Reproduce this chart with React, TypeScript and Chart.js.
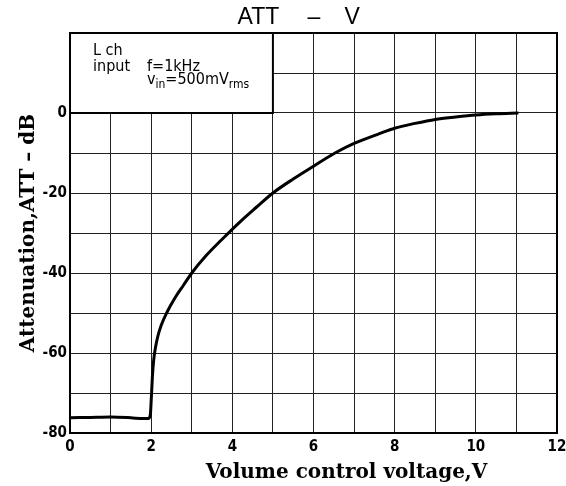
import React, { useEffect, useRef } from "react";
import { Chart, registerables } from "chart.js";

Chart.register(...registerables);

// Volume control voltage (V)
const voltage = [0, 0.5, 1, 1.5, 1.8, 1.93, 1.98, 2.0, 2.03, 2.06, 2.1, 2.16, 2.25, 2.38, 2.6, 2.8, 3.0, 3.35, 3.73, 4.19, 4.6, 5, 5.5, 6, 6.53, 7, 7.64, 8, 8.5, 9, 9.5, 10, 10.5, 11.05];
// Attenuation (dB)
const attenuation = [-76.2, -76.1, -76.0, -76.2, -76.4, -76.4, -75.4, -72, -66, -62, -59, -56, -53, -50, -46, -43, -40, -35.7, -31.75, -27.2, -23.5, -20, -16.5, -13.3, -10, -7.6, -5.1, -3.8, -2.6, -1.6, -1.0, -0.5, -0.2, 0];

const xTickLabels = ["0", "2", "4", "6", "8", "10", "12"];
const yTickLabels = ["0", "-20", "-40", "-60", "-80"];

const titleParts = ["ATT", "–", "V"];
const xTitle = "Volume control voltage,V";
const yTitle = "Attenuation,ATT – dB";
const noteLines = ["L ch", "input", "f=1kHz"];
const noteVin = ["v", "in", "=500mV", "rms"];

const serif = '"DejaVu Serif", "Liberation Serif", serif';
const narrow = '"DejaVu Sans Condensed", "Liberation Sans Narrow", "Liberation Sans", sans-serif';

const decorPlugin = {
  id: "decor",
  beforeDatasetsDraw(chart: any) {
    const { ctx, scales } = chart;
    const xs = scales.x;
    const ys = scales.y;
    // note box (covers 0..5 V, 0..20 dB)
    const l = xs.getPixelForValue(0);
    const r = xs.getPixelForValue(5);
    const t = ys.getPixelForValue(20);
    const b = ys.getPixelForValue(0);
    ctx.save();
    ctx.fillStyle = "#fff";
    ctx.fillRect(l, t, r - l, b - t);
    ctx.strokeStyle = "#000";
    ctx.lineWidth = 2;
    ctx.strokeRect(l, t, r - l, b - t);
    ctx.fillStyle = "#000";
    ctx.textBaseline = "alphabetic";
    ctx.textAlign = "left";
    ctx.font = `16px ${narrow}`;
    ctx.fillText(noteLines[0], l + 23, t + 22);
    ctx.fillText(noteLines[1], l + 23, t + 38);
    ctx.fillText(noteLines[2], l + 77, t + 38);
    let x = l + 77;
    const base = t + 51;
    ctx.fillText(noteVin[0], x, base);
    x += ctx.measureText(noteVin[0]).width;
    ctx.font = `12px ${narrow}`;
    ctx.fillText(noteVin[1], x, base + 4);
    x += ctx.measureText(noteVin[1]).width;
    ctx.font = `16px ${narrow}`;
    ctx.fillText(noteVin[2], x, base);
    x += ctx.measureText(noteVin[2]).width;
    ctx.font = `12px ${narrow}`;
    ctx.fillText(noteVin[3], x, base + 4);
    ctx.restore();
  },
  afterDraw(chart: any) {
    const { ctx, chartArea } = chart;
    ctx.save();
    ctx.strokeStyle = "#000";
    ctx.lineWidth = 2;
    ctx.strokeRect(chartArea.left, chartArea.top, chartArea.right - chartArea.left, chartArea.bottom - chartArea.top);
    // title
    ctx.fillStyle = "#000";
    ctx.font = `23px "Liberation Sans", Arial, sans-serif`;
    ctx.textBaseline = "alphabetic";
    ctx.textAlign = "left";
    const cx = (chartArea.left + chartArea.right) / 2;
    ctx.fillText(titleParts[0], cx - 76, 24);
    ctx.textAlign = "center";
    ctx.fillText(titleParts[1], cx + 0.5, 24);
    ctx.textAlign = "left";
    ctx.fillText(titleParts[2], cx + 31, 24);
    // x title
    ctx.font = `bold 20px ${serif}`;
    ctx.textAlign = "center";
    ctx.fillText(xTitle, cx + 33, 478);
    // y title
    const cy = (chartArea.top + chartArea.bottom) / 2;
    ctx.translate(34, cy);
    ctx.rotate(-Math.PI / 2);
    ctx.fillText(yTitle, 0, 0);
    ctx.restore();
  },
};

export default function App() {
  const ref = useRef<HTMLCanvasElement | null>(null);
  useEffect(() => {
    if (!ref.current) return;
    const data = voltage.map((v, i) => ({ x: v, y: attenuation[i] }));
    const chart = new Chart(ref.current, {
      type: "line",
      data: {
        datasets: [
          {
            data,
            borderColor: "#000",
            borderWidth: 3,
            pointRadius: 0,
            cubicInterpolationMode: "monotone",
            fill: false,
          },
        ],
      },
      options: {
        animation: false,
        responsive: false,
        maintainAspectRatio: false,
        layout: { padding: { left: 0, right: 0, top: 33, bottom: 0 } },
        plugins: { legend: { display: false }, title: { display: false }, tooltip: { enabled: false } },
        scales: {
          x: {
            type: "linear",
            min: 0,
            max: 12,
            afterFit(scale: any) {
              scale.height = 53;
              scale.paddingRight = 9;
            },
            grid: { color: "#222", lineWidth: 1, drawTicks: false },
            border: { color: "#000", width: 2 },
            ticks: {
              stepSize: 1,
              autoSkip: false,
              maxRotation: 0,
              padding: 5,
              color: "#000",
              font: { family: "DejaVu Sans Condensed", size: 15, weight: "bold" },
              callback: (v: any) => (xTickLabels.includes(String(v)) ? String(v) : ""),
            },
          },
          y: {
            type: "linear",
            min: -80,
            max: 20,
            afterFit(scale: any) {
              scale.width = 70;
            },
            grid: { color: "#222", lineWidth: 1, drawTicks: false },
            border: { color: "#000", width: 2 },
            ticks: {
              stepSize: 10,
              autoSkip: false,
              padding: 3,
              color: "#000",
              font: { family: "DejaVu Sans Condensed", size: 15, weight: "bold" },
              callback: (v: any) => (yTickLabels.includes(String(v)) ? String(v) : ""),
            },
          },
        },
      },
      plugins: [decorPlugin],
    });
    return () => chart.destroy();
  }, []);
  return (
    <div style={{ position: "absolute", left: 0, top: 0, width: 566, height: 486, background: "#fff" }}>
      <canvas ref={ref} width={566} height={486} style={{ width: 566, height: 486 }} />
    </div>
  );
}
